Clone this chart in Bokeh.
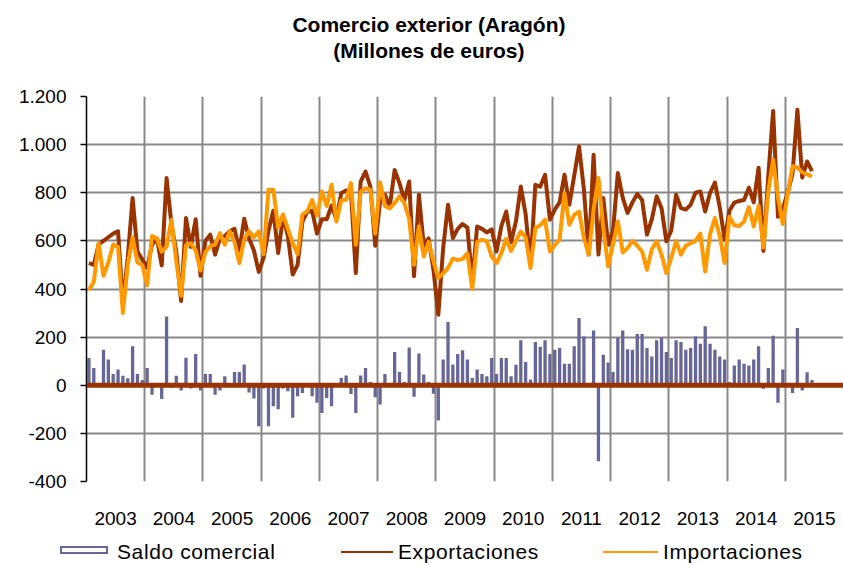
from bokeh.plotting import figure
from bokeh.models import Range1d, FixedTicker, Span, Title, Div
from bokeh.layouts import column
from bokeh.embed import file_html
from bokeh.resources import INLINE

# ---- data (millones de euros, mensual, ene-2003 .. jun-2015) ----
anios = ["2003", "2004", "2005", "2006", "2007", "2008", "2009",
         "2010", "2011", "2012", "2013", "2014", "2015"]

exportaciones = [
    508, 500, 585, 600, 615, 630, 640, 340, 530, 778, 556, 522,
    487, 585, 610, 498, 861, 670, 555, 350, 695, 575, 690, 455,
    600, 626, 543, 610, 620, 640, 650, 560, 692, 610, 560, 471,
    529, 642, 725, 550, 700, 620, 460, 500, 680, 722, 725, 630,
    690, 690, 746, 690, 798, 810, 805, 466, 846, 888, 826, 580,
    764, 792, 743, 895, 840, 770, 847, 453, 792, 580, 610, 480,
    293, 570, 750, 612, 650, 670, 655, 430, 660, 650, 635, 648,
    556, 662, 722, 595, 681, 826, 710, 501, 833, 825, 875, 688,
    730, 760, 875, 750, 870, 992, 815, 543, 958, 543, 778, 584,
    640, 882, 780, 716, 760, 795, 770, 626, 690, 785, 736, 598,
    642, 792, 736, 730, 750, 800, 805, 722, 800, 842, 740, 605,
    725, 759, 766, 770, 821, 760, 904, 558, 870, 1140, 700, 735,
    800, 880, 1145, 863, 930, 890,
]

importaciones = [
    395, 430, 590, 455, 510, 585, 575, 300, 500, 615, 510, 500,
    415, 620, 610, 555, 575, 688, 515, 372, 582, 590, 560, 477,
    553, 578, 585, 632, 584, 640, 595, 508, 606, 640, 615, 640,
    545, 812, 812, 655, 710, 650, 590, 545, 710, 722, 770, 705,
    805, 745, 833, 680, 768, 771, 840, 584, 805, 819, 812, 630,
    844, 745, 735, 757, 785, 757, 690, 501, 660, 535, 596, 515,
    446, 465, 487, 526, 520, 525, 548, 400, 595, 605, 598, 535,
    508, 549, 609, 558, 600, 639, 615, 487, 653, 665, 688, 556,
    582, 605, 798, 667, 708, 722, 612, 543, 730, 861, 653, 494,
    585, 681, 552, 570, 600, 580, 556, 480, 565, 598, 543, 466,
    529, 598, 543, 580, 590, 600, 630, 473, 628, 695, 620, 508,
    700, 665, 662, 680, 740, 660, 745, 572, 805, 937, 780, 670,
    795, 910, 905, 885, 876, 868,
]

saldo = [
    113, 72, 5, 148, 107, 47, 65, 40, 29, 162, 47, 22,
    72, -39, 0, -57, 286, -10, 40, -22, 114, -14, 130, -22,
    47, 47, -39, -22, 37, 0, 55, 55, 86, -30, -55, -170,
    -14, -170, -87, -100, -14, -25, -135, -46, -32, 0, -46, -73,
    -115, -53, -87, 8, 30, 41, -36, -115, 41, 72, 14, -50,
    -80, 47, 8, 138, 55, 13, 157, -48, 132, 45, 14, -35,
    -147, 107, 263, 86, 130, 145, 107, 30, 65, 47, 37, 113,
    47, 113, 113, 37, 85, 187, 97, 24, 180, 160, 187, 130,
    148, 155, 89, 89, 162, 280, 203, 0, 228, -316, 127, 95,
    55, 197, 228, 150, 148, 213, 213, 155, 120, 187, 197, 138,
    113, 187, 180, 148, 155, 203, 172, 245, 172, 148, 120, 107,
    14, 82, 107, 89, 82, 107, 162, -15, 72, 206, -73, 65,
    5, -32, 238, -22, 54, 22,
]

series = ["Saldo comercial", "Exportaciones", "Importaciones"]

y_ticks = [-400, -200, 0, 200, 400, 600, 800, 1000, 1200]
y_labels = ["-400", "-200", "0", "200", "400", "600", "800", "1.000", "1.200"]

meses = list(range(len(exportaciones)))
n_cat = 12 * len(anios)

FONT = "Liberation Sans"
C_EXP = "#993300"
C_IMP = "#FF9900"
C_SAL = "#666699"
C_GRID = "#888888"

W = 843
H_MAIN = 533
H_LEG = 32

p = figure(width=W, height=H_MAIN,
           x_range=Range1d(-0.5, n_cat - 0.5), y_range=Range1d(-400, 1200),
           output_backend="svg", toolbar_location=None, title=None,
           min_border_left=86, min_border_right=0,
           min_border_top=96, min_border_bottom=52)
p.outline_line_color = None
p.background_fill_color = "white"
p.border_fill_color = "white"

# titles (stacked upward from the frame: spacer, line 2, line 1)
gap = Title(text="\u00a0", text_font=FONT, text_font_size="20px",
            standoff=11, align="left")
t2 = Title(text="(Millones de euros)", align="right", offset=319,
           text_font=FONT, text_font_size="21px", text_font_style="bold",
           text_color="black", standoff=0)
t1 = Title(text="Comercio exterior (Aragón)", align="right", offset=278,
           text_font=FONT, text_font_size="21px", text_font_style="bold",
           text_color="black", standoff=2)
p.add_layout(gap, "above")
p.add_layout(t2, "above")
p.add_layout(t1, "above")

# bars / lines
p.vbar(x=meses, top=saldo, bottom=0, width=0.68, fill_color=C_SAL,
       line_color=None)
p.line(meses, exportaciones, line_color=C_EXP, line_width=4, line_join="round")
p.line(meses, importaciones, line_color=C_IMP, line_width=4, line_join="round")

p.add_layout(Span(location=0, dimension="width", line_color=C_EXP,
                  line_width=5))

# axes
year_centers = [12 * k + 5.5 for k in range(len(anios))]
year_bounds = [12 * k + 11.5 for k in range(len(anios) - 1)]

xa = p.xaxis[0]
xa.ticker = FixedTicker(ticks=year_centers)
xa.major_label_overrides = {c: a for c, a in zip(year_centers, anios)}
xa.axis_line_color = None
xa.major_tick_line_color = None
xa.major_tick_out = 0
xa.major_tick_in = 0
xa.minor_tick_line_color = None
xa.major_label_standoff = 30
xa.major_label_text_font = FONT
xa.major_label_text_font_size = "19px"
xa.major_label_text_color = "black"

ya = p.yaxis[0]
ya.ticker = FixedTicker(ticks=y_ticks)
ya.major_label_overrides = {t: l for t, l in zip(y_ticks, y_labels)}
ya.axis_line_color = "black"
ya.axis_line_width = 1.5
ya.major_tick_line_color = "black"
ya.major_tick_line_width = 1.5
ya.major_tick_out = 6
ya.major_tick_in = 0
ya.minor_tick_line_color = None
ya.major_label_standoff = 14
ya.major_label_text_font = FONT
ya.major_label_text_font_size = "19px"
ya.major_label_text_color = "black"

p.xgrid.ticker = FixedTicker(ticks=year_bounds)
p.xgrid.grid_line_color = C_GRID
p.xgrid.grid_line_width = 2
p.ygrid.grid_line_color = C_GRID
p.ygrid.grid_line_width = 2

# legend strip below the chart (HTML, absolute pixel layout)
swatches = [
    f"border:2px solid {C_SAL};background:white;width:48px;height:8px;top:13px;",
    f"background:{C_EXP};width:52px;height:2px;top:18px;",
    f"background:{C_IMP};width:55px;height:2px;top:18px;",
]
sw_left = [60, 341, 603]
lab_left = [117, 398, 663]
parts = []
for sty, sl, ll, name in zip(swatches, sw_left, lab_left, series):
    parts.append(f'<div style="position:absolute;left:{sl}px;{sty}"></div>')
    parts.append(f'<div style="position:absolute;left:{ll}px;top:6px;'
                 f'line-height:26px;white-space:nowrap;">{name}</div>')
html = (f'<div style="position:relative;width:{W}px;height:{H_LEG}px;'
        f'font-family:\'{FONT}\';font-size:21px;letter-spacing:0.6px;color:black;">'
        + "".join(parts) + "</div>")
leg = Div(text=html, width=W, height=H_LEG, margin=0)

layout = column(p, leg, spacing=0)
open("out.html", "w").write(file_html(layout, INLINE))
